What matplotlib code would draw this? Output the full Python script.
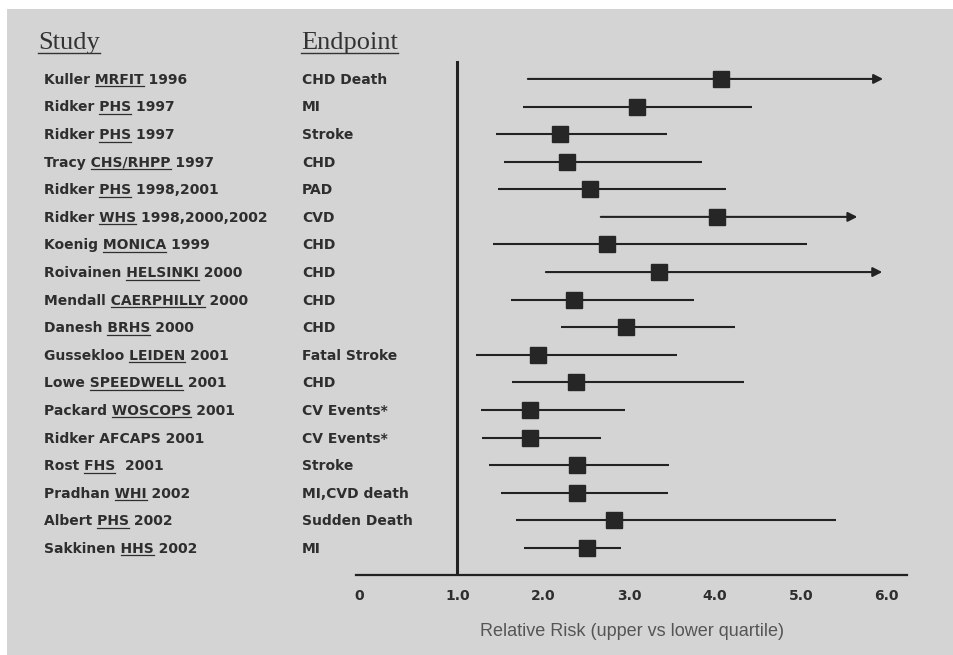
import matplotlib
matplotlib.use("Agg")
import matplotlib.pyplot as plt
from matplotlib.font_manager import FontProperties
from matplotlib.transforms import blended_transform_factory, ScaledTranslation
from matplotlib.patches import Rectangle
from matplotlib.lines import Line2D

# ---------------- data ----------------
authors = ["Kuller", "Ridker", "Ridker", "Tracy", "Ridker", "Ridker", "Koenig",
           "Roivainen", "Mendall", "Danesh", "Gussekloo", "Lowe", "Packard",
           "Ridker", "Rost", "Pradhan", "Albert", "Sakkinen"]
cohorts = ["MRFIT", "PHS", "PHS", "CHS/RHPP", "PHS", "WHS", "MONICA", "HELSINKI",
           "CAERPHILLY", "BRHS", "LEIDEN", "SPEEDWELL", "WOSCOPS", "AFCAPS", "FHS",
           "WHI", "PHS", "HHS"]
years = ["1996", "1997", "1997", "1997", "1998,2001", "1998,2000,2002", "1999",
         "2000", "2000", "2000", "2001", "2001", "2001", "2001", " 2001", "2002",
         "2002", "2002"]
cohort_underlined = [True, True, True, True, True, True, True, True, True, True,
                     True, True, True, False, True, True, True, True]
endpoints = ["CHD Death", "MI", "Stroke", "CHD", "PAD", "CVD", "CHD", "CHD", "CHD",
             "CHD", "Fatal Stroke", "CHD", "CV Events*", "CV Events*", "Stroke",
             "MI,CVD death", "Sudden Death", "MI"]
rr = [4.07, 3.09, 2.19, 2.28, 2.54, 4.02, 2.74, 3.35, 2.36, 2.96, 1.94, 2.38,
      1.85, 1.84, 2.39, 2.39, 2.82, 2.51]
ci_low = [1.82, 1.76, 1.45, 1.54, 1.47, 2.67, 1.41, 2.03, 1.62, 2.21, 1.21, 1.64,
          1.27, 1.29, 1.37, 1.51, 1.68, 1.78]
ci_high = [5.96, 4.43, 3.44, 3.85, 4.13, 5.66, 5.07, 5.95, 3.76, 4.24, 3.56, 4.34,
           2.95, 2.67, 3.46, 3.45, 5.41, 2.90]
open_ended = [True, False, False, False, False, True, False, True, False, False,
              False, False, False, False, False, False, False, False]
xticks = [0, 1, 2, 3, 4, 5, 6]
xtick_labels = ["0", "1.0", "2.0", "3.0", "4.0", "5.0", "6.0"]
reference_rr = 1.0
xlabel = "Relative Risk (upper vs lower quartile)"

# ---------------- figure ----------------
W, H = 954, 655
fig = plt.figure(figsize=(W / 100, H / 100), dpi=100)
fig.patch.set_facecolor("white")
BG = "#d4d4d4"
INK = "#2e2e2e"

# grey panel (the reference is a dithered grey scan)
fig.patches.append(Rectangle((7 / W, 0), 1 - 7 / W, 1 - 9 / H,
                             transform=fig.transFigure, facecolor=BG,
                             edgecolor="none", zorder=-10))

ax_l, ax_r, ax_t, ax_b = 356, 907, 61, 575
ax = fig.add_axes([ax_l / W, 1 - ax_b / H, (ax_r - ax_l) / W, (ax_b - ax_t) / H])
ax.set_zorder(5)
ax.set_facecolor("none")
n = len(rr)
rows = list(range(1, n + 1))
ax.set_xlim(-0.183, 6.239)
ax.set_ylim(18.98, 0.35)
for s in ["top", "right", "left"]:
    ax.spines[s].set_visible(False)
ax.spines["bottom"].set_linewidth(1.6)
ax.spines["bottom"].set_color("#222222")
ax.set_yticks([])
ax.set_xticks(xticks)
ax.set_xticklabels(xtick_labels, fontsize=10, fontweight="bold", color=INK,
                   family="DejaVu Sans")
ax.tick_params(axis="x", length=0, pad=10)
# the hand-drawn original places the "0" label a little left of its position
zero_lbl = ax.get_xticklabels()[0]
zero_lbl.set_transform(zero_lbl.get_transform() +
                       ScaledTranslation(-13 / 100, 0, fig.dpi_scale_trans))

# reference line at RR = 1
ax.axvline(reference_rr, color="#222222", lw=2.2, zorder=2)

# CIs and point estimates
for y, lo, hi, est, arr in zip(rows, ci_low, ci_high, rr, open_ended):
    if arr:
        ax.annotate("", xy=(hi, y), xytext=(lo, y),
                    arrowprops=dict(arrowstyle="-|>,head_length=0.55,head_width=0.28",
                                    lw=1.5, color="#222222", shrinkA=0, shrinkB=0),
                    zorder=3)
    else:
        ax.plot([lo, hi], [y, y], color="#222222", lw=1.5, solid_capstyle="butt",
                zorder=3)
ax.plot(rr, rows, linestyle="none", marker="s", markersize=12,
        color="#262626", zorder=4)

ax.text(0.5, -0.11, xlabel, transform=ax.transAxes, ha="center", va="center",
        fontsize=13, color="#555555", family="Liberation Sans")

# ---------------- row labels ----------------
renderer = fig.canvas.get_renderer()
lab_font = FontProperties(family="DejaVu Sans", weight="bold", size=10)
trans = blended_transform_factory(fig.transFigure, ax.transData)
base_off = 0.18     # baseline offset (data units) below row centre
ul_off = 0.27       # underline offset


def text_w(s, prop):
    w, h, d = renderer.get_text_width_height_descent(s, prop, ismath=False)
    return w


study_x = 44
end_x = 302
for y, a, c, yr, ul, ep in zip(rows, authors, cohorts, years, cohort_underlined,
                               endpoints):
    full = f"{a} {c} {yr}"
    fig.text(study_x / W, y + base_off, full, transform=trans, ha="left",
             va="baseline", fontproperties=lab_font, color=INK)
    if ul:
        x_end = study_x + text_w(f"{a} {c}", lab_font)
        x_start = x_end - text_w(c, lab_font)
        fig.add_artist(Line2D([x_start / W, x_end / W], [y + ul_off, y + ul_off],
                              transform=trans, color=INK, lw=0.9))
    fig.text(end_x / W, y + base_off, ep, transform=trans, ha="left",
             va="baseline", fontproperties=lab_font, color=INK)

# ---------------- column headers ----------------
hdr_font = FontProperties(family="Liberation Serif", size=19)
for hx, label in [(38, "Study"), (301, "Endpoint")]:
    fig.text(hx / W, 1 - 49 / H, label, ha="left", va="baseline",
             fontproperties=hdr_font, color="#333333")
    hw = text_w(label, hdr_font)
    fig.add_artist(Line2D([hx / W, (hx + hw) / W], [1 - 52.5 / H, 1 - 52.5 / H],
                          transform=fig.transFigure, color="#333333", lw=1.0))

fig.savefig("out.png", dpi=100, facecolor=fig.get_facecolor())
